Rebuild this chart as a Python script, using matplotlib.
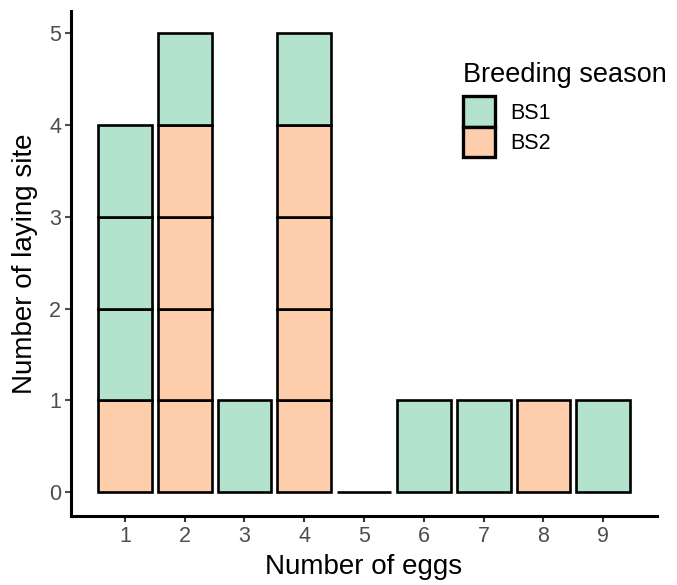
import matplotlib.pyplot as plt
from matplotlib.patches import Patch

eggs = [1, 2, 3, 4, 5, 6, 7, 8, 9]
bs1 = [3, 1, 1, 1, 0, 1, 1, 0, 1]
bs2 = [1, 4, 0, 4, 0, 0, 0, 1, 0]
seasons = ['BS1', 'BS2']
colors = {'BS1': '#b3e2cd', 'BS2': '#fdcdac'}

plt.rcParams['font.family'] = ['Liberation Sans', 'DejaVu Sans']

fig = plt.figure(figsize=(6.77, 5.85), dpi=100)
ax = fig.add_axes([0.1049, 0.118, 0.8656, 0.863])

# every observation is drawn as its own box, BS2 at the bottom
for x, n1, n2 in zip(eggs, bs1, bs2):
    units = ['BS2'] * n2 + ['BS1'] * n1
    if not units:
        ax.bar(x, 0, width=0.9, bottom=0, color='white', edgecolor='black', linewidth=1.9)
    for i, s in enumerate(units):
        ax.bar(x, 1, width=0.9, bottom=i, color=colors[s], edgecolor='black', linewidth=1.9)

ax.set_xlim(0.1, 9.9)
ax.set_ylim(-0.26, 5.24)
ax.set_xticks(eggs)
ax.set_yticks([0, 1, 2, 3, 4, 5])
ax.tick_params(colors='#4d4d4d', labelsize=15.5, width=1.5, length=4, pad=3)
ax.tick_params(axis='x', colors='#333333', labelcolor='#4d4d4d')
for s in ['top', 'right']:
    ax.spines[s].set_visible(False)
for s in ['left', 'bottom']:
    ax.spines[s].set_linewidth(2.2)
ax.set_xlabel('Number of eggs', fontsize=20, labelpad=5)
ax.set_ylabel('Number of laying site', fontsize=20, labelpad=8)

handles = [Patch(facecolor=colors[s], edgecolor='black', linewidth=2.4) for s in seasons]
leg = ax.legend(handles, seasons, title='Breeding season', loc='upper left',
                bbox_to_anchor=(0.655, 0.916), frameon=False, fontsize=15.5,
                title_fontsize=19.5, handlelength=1.45, handleheight=1.8,
                labelspacing=0.0, handletextpad=0.7, borderaxespad=0)
leg._legend_box.align = 'left'
leg._legend_box.sep = 6

fig.savefig('out.png')
